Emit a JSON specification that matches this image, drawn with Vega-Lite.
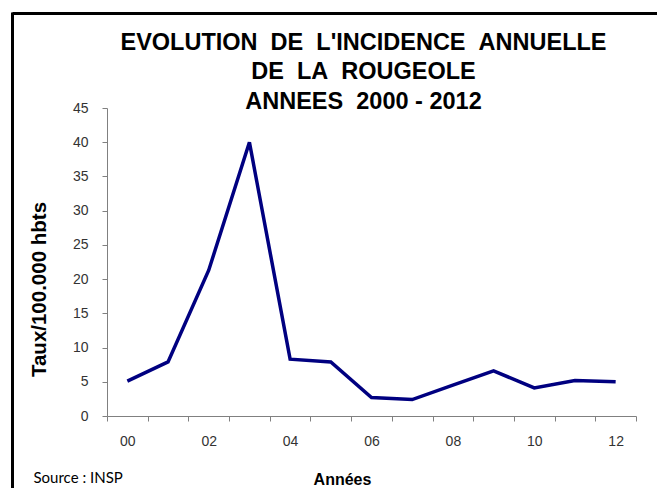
{
  "$schema": "https://vega.github.io/schema/vega-lite/v6.json",
  "width": 529,
  "height": 308,
  "autosize": "none",
  "padding": {"left": 107, "top": 108, "right": 21, "bottom": 72},
  "background": "white",
  "title": {
    "text": ["EVOLUTION\u00a0\u00a0DE\u00a0\u00a0L'INCIDENCE\u00a0\u00a0ANNUELLE", "DE\u00a0\u00a0LA\u00a0\u00a0ROUGEOLE", "ANNEES\u00a0\u00a02000 - 2012"],
    "font": "Liberation Sans",
    "fontSize": 23.5,
    "fontWeight": "bold",
    "color": "black",
    "lineHeight": 29.5,
    "anchor": "middle",
    "dx": -8,
    "offset": -100
  },
  "data": {
    "values": [
      {"annee": "00", "taux": 5.1},
      {"annee": "01", "taux": 7.9},
      {"annee": "02", "taux": 21.3},
      {"annee": "03", "taux": 40.0},
      {"annee": "04", "taux": 8.3},
      {"annee": "05", "taux": 7.9},
      {"annee": "06", "taux": 2.7},
      {"annee": "07", "taux": 2.4},
      {"annee": "08", "taux": 4.5},
      {"annee": "09", "taux": 6.6},
      {"annee": "10", "taux": 4.1},
      {"annee": "11", "taux": 5.2},
      {"annee": "12", "taux": 5.0}
    ]
  },
  "layer": [
    {
      "mark": {"type": "line", "color": "#000080", "strokeWidth": 3.5, "strokeJoin": "miter"},
      "encoding": {
        "x": {
          "field": "annee",
          "type": "ordinal",
          "bandPosition": 0.5,
          "scale": {"type": "band", "paddingInner": 0, "paddingOuter": 0},
          "axis": {
            "tickBand": "extent",
            "labelExpr": "toNumber(datum.value) % 2 == 0 ? datum.label : ''",
            "labelAngle": 0,
            "labelFont": "Liberation Sans",
            "labelFontSize": 14,
            "labelColor": "#333333",
            "labelPadding": 13,
            "tickSize": 5,
            "tickColor": "#808080",
            "domainColor": "#808080",
            "title": "Années",
            "titleFont": "Liberation Sans",
            "titleFontSize": 16,
            "titleFontWeight": "bold",
            "titleColor": "black",
            "titleX": 235,
            "titleY": 68,
            "titleBaseline": "alphabetic"
          }
        },
        "y": {
          "field": "taux",
          "type": "quantitative",
          "scale": {"domain": [0, 45], "nice": false},
          "axis": {
            "values": [0, 5, 10, 15, 20, 25, 30, 35, 40, 45],
            "grid": false,
            "labelFont": "Liberation Sans",
            "labelFontSize": 14,
            "labelColor": "#333333",
            "labelPadding": 14,
            "tickSize": 5,
            "tickColor": "#808080",
            "domainColor": "#808080",
            "title": "Taux/100.000 hbts",
            "titleFont": "Liberation Sans",
            "titleFontSize": 20.5,
            "titleFontWeight": "bold",
            "titleColor": "black",
            "titleAlign": "center",
            "titleBaseline": "middle",
            "titleX": -68,
            "titleY": 181
          }
        }
      }
    },
    {
      "mark": {"type": "line", "opacity": 0},
      "encoding": {
        "x": {
          "field": "annee",
          "type": "ordinal",
          "bandPosition": 0.5,
          "scale": {"type": "band", "paddingInner": 0, "paddingOuter": 0, "range": [-95, 560]},
          "axis": {
            "orient": "top",
            "offset": 95,
            "labels": false,
            "ticks": false,
            "grid": false,
            "title": null,
            "domain": true,
            "domainColor": "black",
            "domainWidth": 3
          }
        },
        "y": {
          "field": "taux",
          "type": "quantitative",
          "scale": {"domain": [0, 45], "nice": false, "range": [380, -96]},
          "axis": {
            "orient": "left",
            "offset": 95,
            "labels": false,
            "ticks": false,
            "grid": false,
            "domain": true,
            "domainColor": "black",
            "domainWidth": 3,
            "title": "Source : INSP",
            "titleFont": "Lato",
            "titleFontSize": 15,
            "titleFontWeight": "normal",
            "titleColor": "black",
            "titleAngle": 0,
            "titleAlign": "left",
            "titleBaseline": "alphabetic",
            "titleX": 21,
            "titleY": 374
          }
        }
      }
    }
  ],
  "resolve": {"scale": {"x": "independent", "y": "independent"}, "axis": {"x": "independent", "y": "independent"}},
  "config": {"view": {"stroke": null}}
}
